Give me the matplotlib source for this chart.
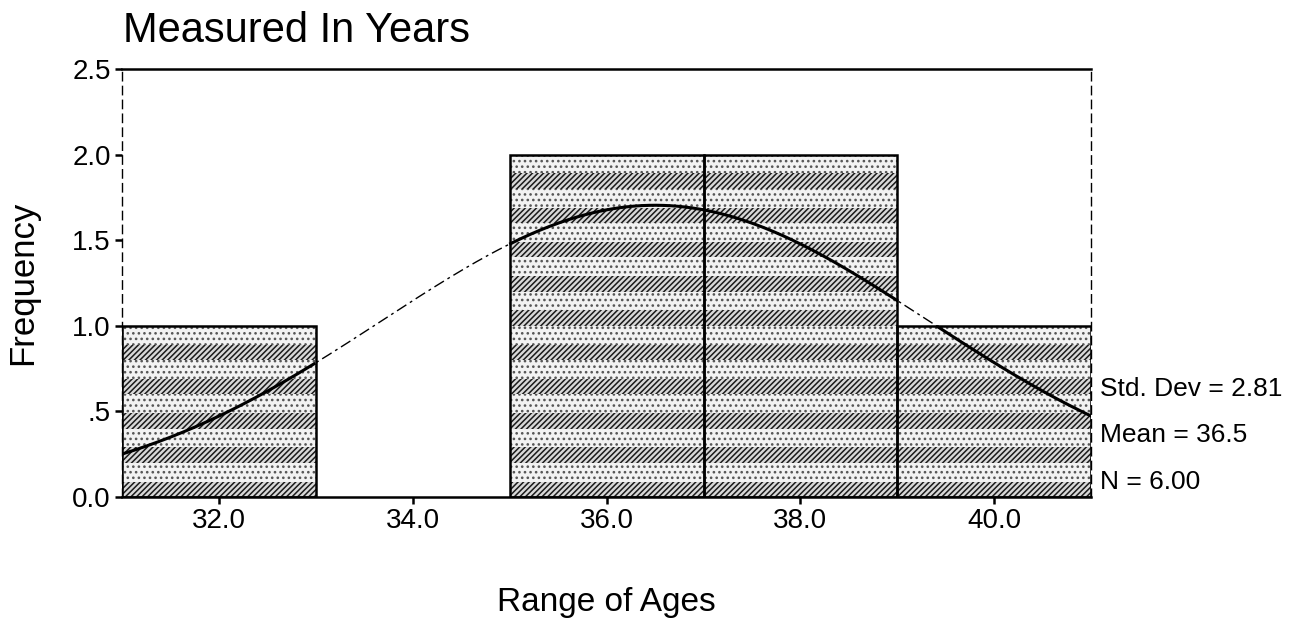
import numpy as np
import matplotlib
matplotlib.use("Agg")
import matplotlib.pyplot as plt

# histogram of ages (bin width 2)
bin_centers = [32.0, 34.0, 36.0, 38.0, 40.0]
frequencies = [1, 0, 2, 2, 1]
bin_width = 2.0

std_dev = 2.81
mean = 36.5
n = 6

x_ticks = [32.0, 34.0, 36.0, 38.0, 40.0]
y_ticks = [0.0, 0.5, 1.0, 1.5, 2.0, 2.5]
y_tick_labels = ["0.0", ".5", "1.0", "1.5", "2.0", "2.5"]

plt.rcParams['font.family'] = ['Liberation Sans', 'DejaVu Sans']
plt.rcParams['hatch.linewidth'] = 1.1

fig = plt.figure(figsize=(12.99, 6.38), dpi=100)
ax = fig.add_axes([0.094, 0.221, 0.746, 0.671])

# scanned-looking texture: bands of dense hatch and sparse dots
for xc, h in zip(bin_centers, frequencies):
    if h <= 0:
        continue
    y0 = 0.0
    while y0 < h:
        dense = min(0.09, h - y0)
        ax.bar(xc, dense, width=bin_width, bottom=y0, facecolor='#d8d8d8',
               edgecolor='#1a1a1a', hatch='//////', linewidth=0, zorder=1)
        if y0 + dense < h:
            sparse = min(0.11, h - y0 - dense)
            ax.bar(xc, sparse, width=bin_width, bottom=y0 + dense, facecolor='#f2f2f2',
                   edgecolor='#555555', hatch='...', linewidth=0, zorder=1)
        y0 += 0.2
    ax.bar(xc, h, width=bin_width, facecolor='none', edgecolor='black',
           linewidth=1.8, zorder=2)

# fitted normal curve
xs = np.linspace(31, 41, 400)
curve = n * bin_width / (std_dev * np.sqrt(2 * np.pi)) * np.exp(-0.5 * ((xs - mean) / std_dev) ** 2)
heights = np.zeros_like(xs)
for xc, h in zip(bin_centers, frequencies):
    inside = (xs >= xc - bin_width / 2) & (xs <= xc + bin_width / 2)
    heights[inside] = np.maximum(heights[inside], h)
covered = curve <= heights
ax.plot(xs, curve, color='black', linewidth=1.0, linestyle=(0, (8, 3, 2, 3)), zorder=3)
ax.plot(xs, np.where(covered, curve, np.nan), color='black', linewidth=2.2, zorder=4)

ax.set_xlim(31, 41)
ax.set_ylim(0, 2.5)
ax.set_xticks(x_ticks)
ax.set_xticklabels([f"{t:.1f}" for t in x_ticks])
ax.set_yticks(y_ticks)
ax.set_yticklabels(y_tick_labels)
ax.tick_params(axis='both', labelsize=20, length=5, width=1.8, direction='out', pad=3)

ax.spines['top'].set_linewidth(1.8)
ax.spines['bottom'].set_linewidth(1.8)
for side in ['left', 'right']:
    ax.spines[side].set_linestyle((0, (6, 4)))
    ax.spines[side].set_linewidth(1.0)

ax.set_ylabel("Frequency", fontsize=25, labelpad=24)
ax.set_xlabel("Range of Ages", fontsize=24, labelpad=38)
fig.text(0.095, 0.92, "Measured In Years", fontsize=30, ha='left', va='bottom')

stats = [f"Std. Dev = {std_dev:.2f}", f"Mean = {mean:.1f}", f"N = {n:.2f}"]
for i, s in enumerate(stats):
    ax.text(1.009, 0.252 - i * 0.108, s, transform=ax.transAxes, fontsize=19,
            ha='left', va='center')

fig.savefig("out.png", dpi=100)
